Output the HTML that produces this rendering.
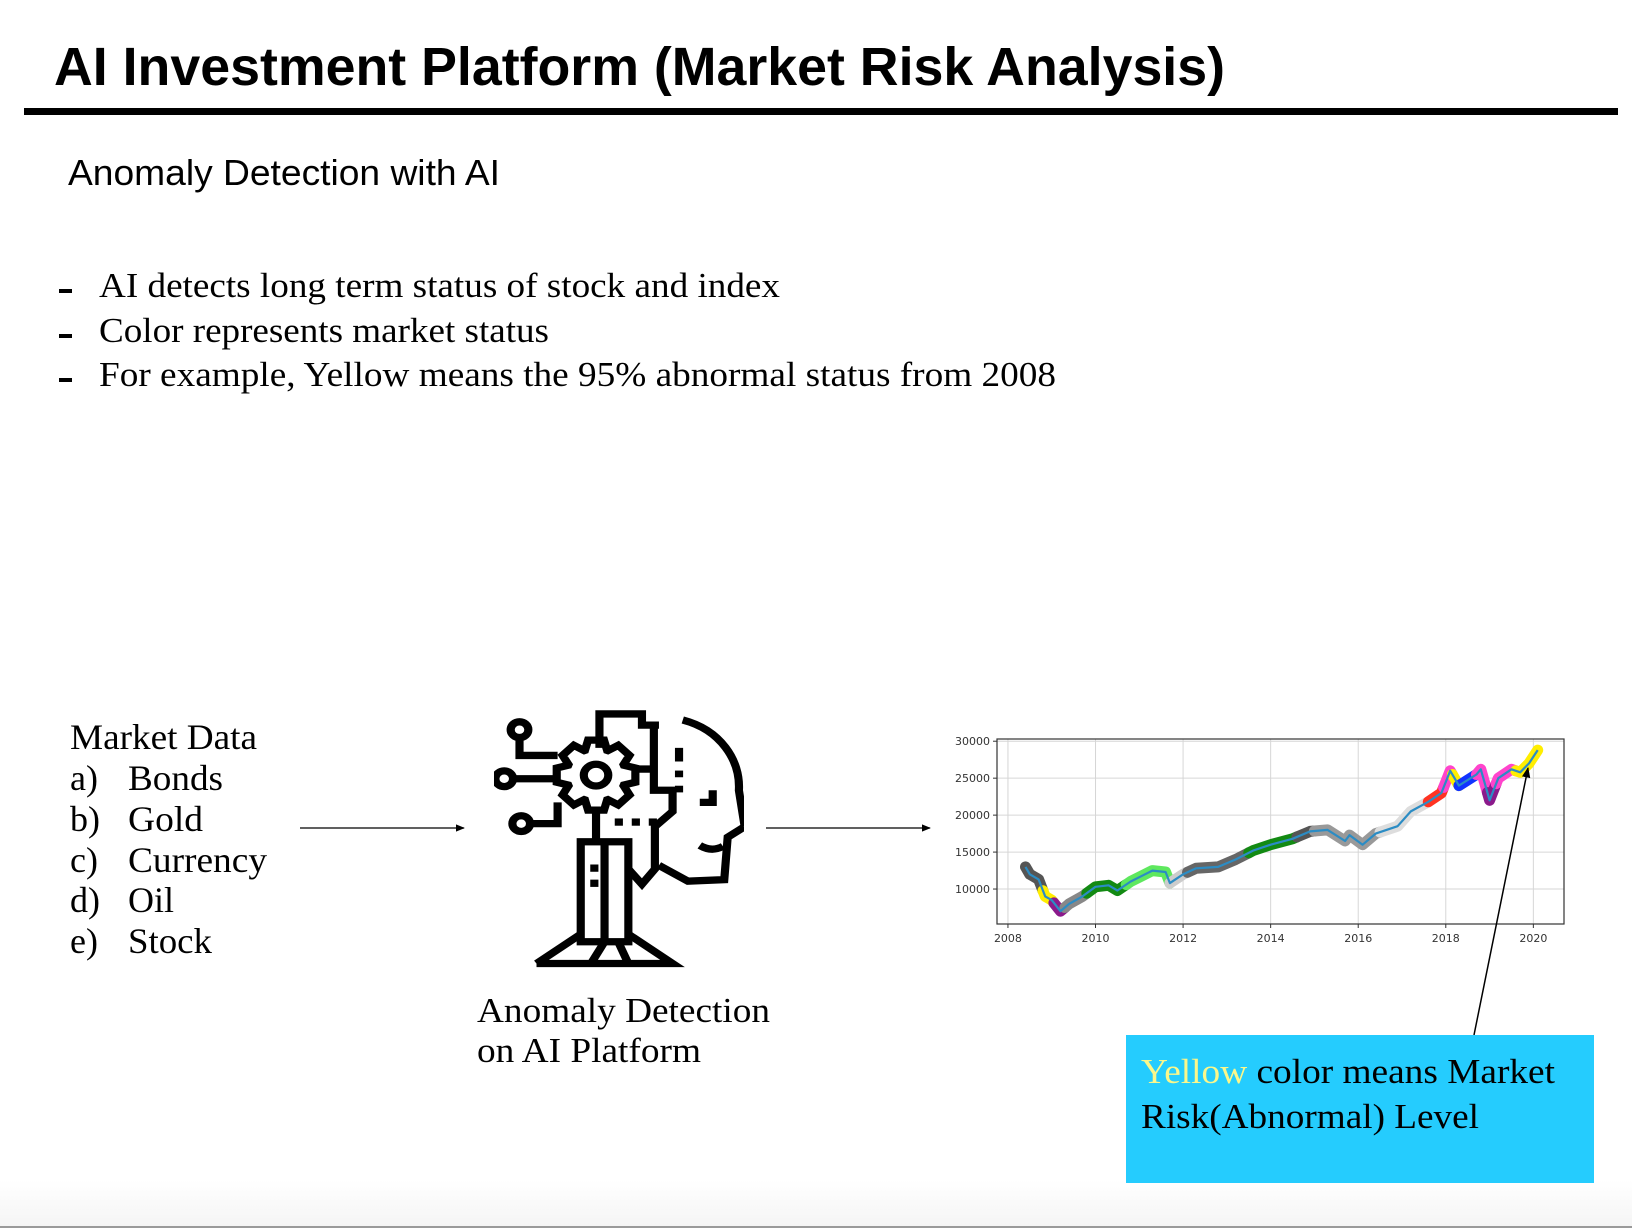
<!DOCTYPE html>
<html><head><meta charset="utf-8"><style>
html,body{margin:0;padding:0;background:#fff;}
svg{display:block;}
.serif{font-family:"Liberation Serif",serif;}
.sans{font-family:"Liberation Sans",sans-serif;}
</style></head><body>
<svg id="page" width="1632" height="1228" viewBox="0 0 1632 1228" xmlns="http://www.w3.org/2000/svg">
<defs>
<linearGradient id="fade" x1="0" y1="0" x2="0" y2="1"><stop offset="0" stop-color="#fff"/><stop offset="1" stop-color="#f5f5f5"/></linearGradient>
<marker id="ah" viewBox="0 0 10 10" refX="9" refY="5" markerWidth="7" markerHeight="7" orient="auto"><path d="M0,1 L10,5 L0,9 Z" fill="#000"/></marker>
</defs>
<rect x="0" y="1180" width="1632" height="46" fill="url(#fade)"/>
<rect x="0" y="1226" width="1632" height="2" fill="#9a9a9a"/>

<text class="sans" x="54" y="85" font-size="54" font-weight="bold" textLength="1171" lengthAdjust="spacingAndGlyphs">AI Investment Platform (Market Risk Analysis)</text>
<rect x="24" y="108" width="1594" height="7" fill="#000"/>
<text class="sans" x="68" y="185" font-size="36" textLength="432" lengthAdjust="spacingAndGlyphs">Anomaly Detection with AI</text>

<g class="serif" font-size="35">
<rect x="59" y="289" width="13" height="4" fill="#000"/>
<text x="99" y="297" textLength="681" lengthAdjust="spacingAndGlyphs">AI detects long term status of stock and index</text>
<rect x="59" y="334" width="13" height="4" fill="#000"/>
<text x="99" y="342" textLength="450" lengthAdjust="spacingAndGlyphs">Color represents market status</text>
<rect x="59" y="378" width="13" height="4" fill="#000"/>
<text x="99" y="386" textLength="957" lengthAdjust="spacingAndGlyphs">For example, Yellow means the 95% abnormal status from 2008</text>
</g>

<g class="serif" font-size="36">
<text x="70" y="749" textLength="187" lengthAdjust="spacingAndGlyphs">Market Data</text>
<text x="70" y="790">a)</text><text x="128" y="790" textLength="95" lengthAdjust="spacingAndGlyphs">Bonds</text>
<text x="70" y="831">b)</text><text x="128" y="831" textLength="75" lengthAdjust="spacingAndGlyphs">Gold</text>
<text x="70" y="872">c)</text><text x="128" y="872" textLength="139" lengthAdjust="spacingAndGlyphs">Currency</text>
<text x="70" y="912">d)</text><text x="128" y="912">Oil</text>
<text x="70" y="953">e)</text><text x="128" y="953" textLength="84" lengthAdjust="spacingAndGlyphs">Stock</text>
</g>

<line x1="300" y1="828" x2="464" y2="828" stroke="#000" stroke-width="1.3" marker-end="url(#ah)"/>
<line x1="766" y1="828" x2="930" y2="828" stroke="#000" stroke-width="1.3" marker-end="url(#ah)"/>

<svg x="494" y="710" width="250" height="259" viewBox="75 35 735 855" preserveAspectRatio="none">
<g fill="none" stroke="#000" stroke-width="24" stroke-linejoin="miter">
<path id="gear" d=""/>
<circle cx="375" cy="250" r="36"/>
<circle cx="150" cy="100" r="26"/><circle cx="105" cy="262" r="26"/><circle cx="155" cy="410" r="26"/>
<path d="M150,126 L150,185 L262,185"/>
<path d="M131,262 L255,262"/>
<path d="M181,410 L262,410 L262,340"/>
<path d="M385,160 L385,48 L510,48 L510,85 L560,85"/>
<path d="M630,68 C740,100 800,200 795,300 L812,420 L762,455 L752,595 L645,600 L560,548"/>
<path d="M545,95 L545,300 L600,300 L600,370 L548,420 L548,560 L510,610 L470,560"/>
<path d="M495,230 L545,230"/>
<path d="M375,370 L375,470"/>
<rect x="330" y="470" width="140" height="330"/>
<path d="M400,470 L400,800"/>
<path d="M200,872 L330,775 M470,775 L600,872 L200,872 M400,800 L360,872 M440,800 L470,872"/>
<path d="M680,340 L718,340 L718,300"/>
<path d="M680,482 Q715,505 748,485"/>
</g>
<g fill="#000">
<rect x="607" y="160" width="24" height="45"/><rect x="607" y="235" width="24" height="22"/><rect x="607" y="285" width="24" height="22"/>
<rect x="430" y="393" width="24" height="24"/><rect x="480" y="393" width="24" height="24"/><rect x="530" y="393" width="24" height="24"/>
<rect x="358" y="545" width="24" height="24"/><rect x="358" y="595" width="24" height="24"/>
</g>
</svg>

<g class="serif" font-size="35">
<text x="477" y="1022" textLength="293" lengthAdjust="spacingAndGlyphs">Anomaly Detection</text>
<text x="477" y="1062" textLength="224" lengthAdjust="spacingAndGlyphs">on AI Platform</text>
</g>

<g id="chart"></g>

<line x1="1474" y1="1035" x2="1528" y2="768" stroke="#000" stroke-width="1.5" marker-end="url(#ah)"/>
<rect x="1126" y="1035" width="468" height="148" fill="#25ccfe"/>
<text class="serif" font-size="35" x="1141" y="1083" textLength="414" lengthAdjust="spacingAndGlyphs"><tspan fill="#fbf78a">Yellow</tspan> color means Market</text>
<text class="serif" font-size="35" x="1141" y="1128" textLength="338" lengthAdjust="spacingAndGlyphs">Risk(Abnormal) Level</text>
</svg>
<script>
(function(){
  var cx=375,cy=250,ro=118,ri=88,n=8,d='';
  for(var i=0;i<n;i++){
    var a=i*2*Math.PI/n, w=0.2;
    var pts=[[ri,a-0.38],[ro,a-w],[ro,a+w],[ri,a+0.38]];
    pts.forEach(function(p,j){var x=cx+p[0]*Math.cos(p[1]),y=cy+p[0]*Math.sin(p[1]);d+=(i===0&&j===0?'M':'L')+x.toFixed(1)+','+y.toFixed(1);});
  }
  document.getElementById('gear').setAttribute('d',d+'Z');
})();

var years=[2008.4,2008.5,2008.7,2008.85,2009.0,2009.2,2009.4,2009.7,2010.0,2010.3,2010.5,2010.8,2011.3,2011.6,2011.7,2012.0,2012.3,2012.8,2013.2,2013.6,2014.0,2014.5,2014.9,2015.3,2015.7,2015.8,2016.1,2016.4,2016.9,2017.2,2017.6,2017.9,2018.1,2018.3,2018.7,2018.8,2019.0,2019.2,2019.5,2019.7,2019.9,2020.1];
var values=[13000,12000,11300,9000,8500,7000,8000,9000,10300,10500,9800,11000,12500,12300,10800,12000,12800,13000,14000,15200,16000,16800,17800,18000,16500,17300,16000,17500,18500,20500,21800,23000,26000,24000,25500,26200,22000,25000,26200,25800,27000,28800];
var bandStart=[2008.4,2008.8,2009.05,2009.3,2009.8,2010.7,2011.7,2012.1,2013.5,2014.6,2015.0,2016.5,2017.6,2017.95,2018.15,2018.3,2018.7,2018.95,2019.15,2019.6];
var bandEnd=[2008.8,2009.05,2009.3,2009.8,2010.7,2011.7,2012.1,2013.5,2014.6,2015.0,2016.5,2017.6,2017.95,2018.15,2018.3,2018.7,2018.95,2019.15,2019.6,2020.1];
var bandColor=['#555555','#ffee00','#8b1a8b','#888888','#138a13','#5ee85e','#cccccc','#666666','#138a13','#555555','#999999','#dddddd','#ff3322','#ff44cc','#ffee00','#1133ff','#ff44cc','#8b1a8b','#ff44cc','#ffee00'];
var xTicks=[2008,2010,2012,2014,2016,2018,2020];
var yTicks=[10000,15000,20000,25000,30000];

var L=997,R=1564,T=739,B=924,X0=2007.75,X1=2020.7,Y0=5270,Y1=30300;
function sx(v){return L+(v-X0)/(X1-X0)*(R-L);}
function sy(v){return B-(v-Y0)/(Y1-Y0)*(B-T);}
function valAt(t){
  for(var i=0;i<years.length-1;i++){if(t>=years[i]&&t<=years[i+1]){var f=(t-years[i])/(years[i+1]-years[i]);return values[i]+f*(values[i+1]-values[i]);}}
  return values[values.length-1];
}
var NS='http://www.w3.org/2000/svg',g=document.getElementById('chart');
function mk(tag,attrs){var e=document.createElementNS(NS,tag);for(var k in attrs)e.setAttribute(k,attrs[k]);g.appendChild(e);return e;}
var bg=mk('rect',{x:L,y:T,width:R-L,height:B-T,fill:'#fff'});


xTicks.forEach(function(t){
  var l=mk('line',{x1:sx(t),x2:sx(t),y1:T,y2:B,stroke:'#d6d6d6','stroke-width':1});
  
  
  var tk=mk('line',{x1:sx(t),x2:sx(t),y1:B,y2:B+4,stroke:'#333','stroke-width':1});
  
  
  var tx=mk('text',{x:sx(t),y:B+18,'font-size':11,'text-anchor':'middle',fill:'#333','font-family':'DejaVu Sans, sans-serif'});
  tx.textContent=t;
  
  
});
yTicks.forEach(function(t){
  var l=mk('line',{x1:L,x2:R,y1:sy(t),y2:sy(t),stroke:'#d6d6d6','stroke-width':1});
  
  
  var tk=mk('line',{x1:L-4,x2:L,y1:sy(t),y2:sy(t),stroke:'#333','stroke-width':1});
  
  
  var tx=mk('text',{x:L-7,y:sy(t)+4,'font-size':11,'text-anchor':'end',fill:'#333','font-family':'DejaVu Sans, sans-serif'});
  tx.textContent=t;
  
  
});
bandStart.forEach(function(s,i){
  var e=bandEnd[i],pts=[[s,valAt(s)]];
  years.forEach(function(y,j){if(y>s&&y<e)pts.push([y,values[j]]);});
  pts.push([e,valAt(e)]);
  var p=mk('polyline',{points:pts.map(function(q){return sx(q[0]).toFixed(1)+','+sy(q[1]).toFixed(1);}).join(' '),fill:'none',stroke:bandColor[i],'stroke-width':11,'stroke-linejoin':'round','stroke-linecap':'round'});
  
  
});
var line=mk('polyline',{points:years.map(function(y,i){return sx(y).toFixed(1)+','+sy(values[i]).toFixed(1);}).join(' '),fill:'none',stroke:'#2b8cc4','stroke-width':2.2,'stroke-linejoin':'round'});


var fr=mk('rect',{x:L,y:T,width:R-L,height:B-T,fill:'none',stroke:'#333','stroke-width':1.2});


</script>
</body></html>
